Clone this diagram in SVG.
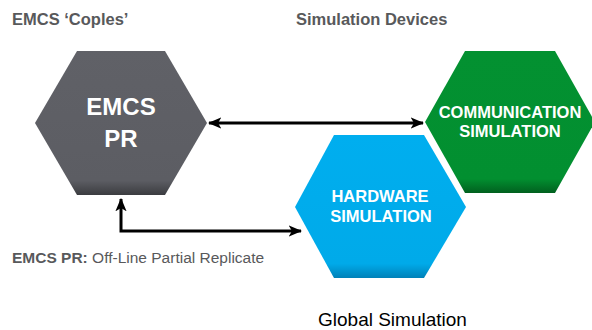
<svg xmlns="http://www.w3.org/2000/svg" width="592" height="330" viewBox="0 0 592 330">
<style>
.lbl{font-family:"Liberation Sans",Arial,sans-serif;font-weight:bold;fill:#58595b;font-size:16.5px}
.in{font-family:"Liberation Sans",Arial,sans-serif;font-weight:bold;fill:#ffffff;text-anchor:middle}
.conn{fill:none;stroke:#000;stroke-width:3;marker-start:url(#ah);marker-end:url(#ah)}
</style>
<defs>
<linearGradient id="gGrey" x1="0" y1="0" x2="0" y2="1">
<stop offset="0" stop-color="#606167"/><stop offset="0.9" stop-color="#5c5d63"/><stop offset="1" stop-color="#3b3c40"/>
</linearGradient>
<linearGradient id="gGreen" x1="0" y1="0" x2="0" y2="1">
<stop offset="0" stop-color="#039131"/><stop offset="0.9" stop-color="#028f30"/><stop offset="1" stop-color="#01601f"/>
</linearGradient>
<linearGradient id="gBlue" x1="0" y1="0" x2="0" y2="1">
<stop offset="0" stop-color="#00aeef"/><stop offset="0.9" stop-color="#00aae9"/><stop offset="1" stop-color="#0081b8"/>
</linearGradient>
<marker id="ah" viewBox="0 0 12 10" refX="11" refY="5" markerWidth="4.5" markerHeight="4" orient="auto-start-reverse" markerUnits="strokeWidth">
<path d="M0,0 L12,5 L0,10 L3,5 z" fill="#000"/>
</marker>
</defs>
<text class="lbl" x="12" y="25">EMCS ‘Coples’</text>
<text class="lbl" x="296" y="25">Simulation Devices</text>
<g id="emcs-pr">
<polygon points="77,51 165,51 207,123 165,195 77,195 35,123" fill="url(#gGrey)"/>
<text class="in" x="121" y="115" font-size="24">EMCS</text>
<text class="in" x="121" y="147" font-size="24">PR</text>
</g>
<g id="comm-sim">
<polygon points="465,51 555,51 595,122 555,193 465,193 425,122" fill="url(#gGreen)"/>
<text class="in" x="510" y="118" font-size="16.5">COMMUNICATION</text>
<text class="in" x="510" y="137" font-size="16.5">SIMULATION</text>
</g>
<g id="hw-sim">
<polygon points="334,135 424,135 466,207 424,278 334,278 295,207" fill="url(#gBlue)"/>
<text class="in" x="380" y="202" font-size="16.5">HARDWARE</text>
<text class="in" x="381" y="222" font-size="16.5">SIMULATION</text>
</g>
<g id="connectors">
<path class="conn" d="M209,123 H423"/>
<path class="conn" d="M121,199 V231 H301"/>
</g>
<text x="12" y="263" font-family="'Liberation Sans',Arial,sans-serif" font-size="15.5" fill="#58595b"><tspan font-weight="bold">EMCS PR:</tspan> Off-Line Partial Replicate</text>
<text x="318" y="326" font-family="'Liberation Sans',Arial,sans-serif" font-size="19" fill="#000">Global Simulation</text>
</svg>
